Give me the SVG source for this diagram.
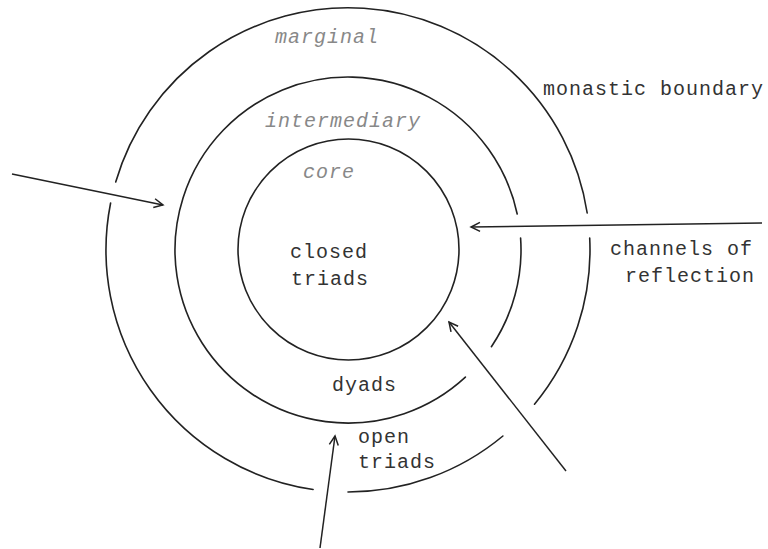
<svg xmlns="http://www.w3.org/2000/svg" width="768" height="549" viewBox="0 0 768 549">
<style>
.ring{fill:none;stroke:#222;stroke-width:1.6;stroke-linecap:round}
.conn{fill:none;stroke:#222;stroke-width:1.5}
.t{font-family:"Liberation Mono","DejaVu Sans Mono",monospace;font-size:20px;letter-spacing:1px;fill:#333}
.it{font-family:"Liberation Mono","DejaVu Sans Mono",monospace;font-size:20px;letter-spacing:1px;font-style:italic;fill:#888}
</style>
<defs>
<marker id="ah" viewBox="-11 -6 13 12" refX="0" refY="0" markerWidth="13" markerHeight="12" markerUnits="userSpaceOnUse" orient="auto">
<path d="M-9,-4.5 L0,0 L-9,4.5" fill="none" stroke="#222" stroke-width="1.5"/>
</marker>
</defs>
<rect width="768" height="549" fill="#fff"/>
<g id="outer-ring">
<path class="ring" d="M589.7,238 A242,242 0 0 1 534.5,404.2"/>
<path class="ring" d="M502.9,436 A242,242 0 0 1 348,492"/>
<path class="ring" d="M313.1,489.5 A242,242 0 0 1 110.6,203"/>
<path class="ring" d="M115.7,182 A242,242 0 0 1 587.2,213"/>
<text class="it" x="275" y="43">marginal</text>
<text class="t" x="543" y="95">monastic boundary</text>
<text class="t" x="358" y="443">open</text>
<text class="t" x="358" y="468">triads</text>
</g>
<g id="middle-ring">
<path class="ring" d="M520.6,238 A173,173 0 0 1 491.4,346.7"/>
<path class="ring" d="M465.4,377.1 A173,173 0 1 1 517.2,214"/>
<text class="it" x="265" y="127">intermediary</text>
<text class="t" x="332" y="391">dyads</text>
</g>
<g id="core">
<circle class="ring" cx="348.5" cy="249.5" r="110.5"/>
<text class="it" x="303" y="178">core</text>
<text class="t" x="290" y="258">closed</text>
<text class="t" x="291" y="285">triads</text>
</g>
<g id="channels-label">
<text class="t" x="610" y="255">channels of</text>
<text class="t" x="625" y="282">reflection</text>
</g>
<g id="connectors">
<line class="conn" x1="12" y1="174" x2="163" y2="205" marker-end="url(#ah)"/>
<line class="conn" x1="762" y1="223" x2="471" y2="227" marker-end="url(#ah)"/>
<line class="conn" x1="566" y1="471" x2="449" y2="322" marker-end="url(#ah)"/>
<line class="conn" x1="320" y1="548" x2="335" y2="436" marker-end="url(#ah)"/>
</g>
</svg>
